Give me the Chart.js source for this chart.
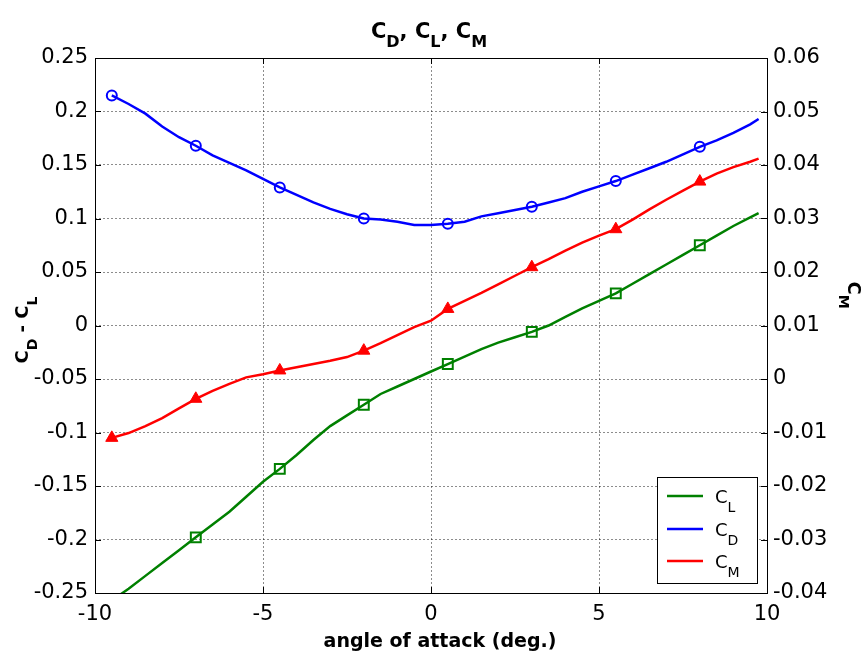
<!DOCTYPE html>
<html>
<head>
<meta charset="utf-8">
<script src="https://cdn.jsdelivr.net/npm/chart.js@4.4.0/dist/chart.umd.min.js"></script>
<style>
  html, body { margin: 0; padding: 0; background: #fff; }
  canvas { display: block; }
</style>
</head>
<body>
<canvas id="coeffChart" width="862" height="653"></canvas>
<script>
// --- data ---
const angles = [-9.5, -9, -8.5, -8, -7.5, -7, -6.5, -6, -5.5, -5, -4.5, -4, -3.5, -3, -2.5, -2, -1.5, -1, -0.5, 0,
                0.5, 1, 1.5, 2, 2.5, 3, 3.5, 4, 4.5, 5, 5.5, 6, 6.5, 7, 7.5, 8, 8.5, 9, 9.5, 9.75];
const markerAngles = [-9.5, -7, -4.5, -2, 0.5, 3, 5.5, 8];

const clValues = [-0.257, -0.246, -0.234, -0.222, -0.210, -0.198, -0.186, -0.174, -0.160, -0.146,
                  -0.134, -0.121, -0.107, -0.094, -0.084, -0.074, -0.064, -0.057, -0.050, -0.043,
                  -0.036, -0.029, -0.022, -0.016, -0.011, -0.006, 0.000, 0.008, 0.016, 0.023,
                  0.030, 0.039, 0.048, 0.057, 0.066, 0.075, 0.084, 0.093, 0.101, 0.105];
const cdValues = [0.215, 0.207, 0.198, 0.186, 0.176, 0.168, 0.159, 0.152, 0.145, 0.137,
                  0.129, 0.122, 0.115, 0.109, 0.104, 0.100, 0.099, 0.097, 0.094, 0.094,
                  0.095, 0.097, 0.102, 0.105, 0.108, 0.111, 0.115, 0.119, 0.125, 0.130,
                  0.135, 0.141, 0.147, 0.153, 0.160, 0.167, 0.173, 0.180, 0.188, 0.193];
const cmValues = [-0.0110, -0.0101, -0.0088, -0.0073, -0.0055, -0.0037, -0.0022, -0.0009, 0.0003, 0.0009,
                  0.0016, 0.0022, 0.0028, 0.0034, 0.0041, 0.0053, 0.0067, 0.0082, 0.0097, 0.0109,
                  0.0131, 0.0146, 0.0161, 0.0177, 0.0193, 0.0209, 0.0224, 0.0240, 0.0255, 0.0268,
                  0.0280, 0.0298, 0.0317, 0.0335, 0.0352, 0.0369, 0.0384, 0.0396, 0.0406, 0.0412];

const xTicks = [-10, -5, 0, 5, 10];
const leftTicks = [-0.25, -0.2, -0.15, -0.1, -0.05, 0, 0.05, 0.1, 0.15, 0.2, 0.25];
const leftTickLabels = ['-0.25', '-0.2', '-0.15', '-0.1', '-0.05', '0', '0.05', '0.1', '0.15', '0.2', '0.25'];
const rightTicks = [-0.04, -0.03, -0.02, -0.01, 0, 0.01, 0.02, 0.03, 0.04, 0.05, 0.06];
const rightTickLabels = ['-0.04', '-0.03', '-0.02', '-0.01', '0', '0.01', '0.02', '0.03', '0.04', '0.05', '0.06'];

const GREEN = '#008000', BLUE = '#0000ff', RED = '#ff0000';
const FONT = 'DejaVu Sans';

function toPoints(vals) {
    return angles.map((a, i) => ({ x: a, y: vals[i] }));
}
function markerSize(r) {
    return ctx => markerAngles.includes(angles[ctx.dataIndex]) ? r : 0;
}

// draw text made of [text, isSub] parts, starting at x (or centred on x)
function drawParts(ctx, parts, x, y, mainFont, subFont, subDrop, center) {
    let w = 0;
    parts.forEach(p => { ctx.font = p[1] ? subFont : mainFont; w += ctx.measureText(p[0]).width; });
    let cx = center ? x - w / 2 : x;
    ctx.textBaseline = 'alphabetic';
    ctx.textAlign = 'left';
    parts.forEach(p => {
        ctx.font = p[1] ? subFont : mainFont;
        ctx.fillText(p[0], cx, p[1] ? y + subDrop : y);
        cx += ctx.measureText(p[0]).width;
    });
}

// box, inward ticks, titles and legend (MATLAB look)
const decorPlugin = {
    id: 'decor',
    afterDatasetsDraw(chart) {
        const { ctx, chartArea: a, scales } = chart;
        ctx.save();
        ctx.strokeStyle = '#000';
        ctx.lineWidth = 1;
        ctx.strokeRect(Math.round(a.left) + 0.5, Math.round(a.top) + 0.5,
                       Math.round(a.right - a.left), Math.round(a.bottom - a.top));
        const tl = 6;
        ctx.beginPath();
        xTicks.forEach(v => {
            const px = Math.round(scales.x.getPixelForValue(v)) + 0.5;
            ctx.moveTo(px, a.bottom); ctx.lineTo(px, a.bottom - tl);
            ctx.moveTo(px, a.top); ctx.lineTo(px, a.top + tl);
        });
        leftTicks.forEach(v => {
            const py = Math.round(scales.y.getPixelForValue(v)) + 0.5;
            ctx.moveTo(a.left, py); ctx.lineTo(a.left + tl, py);
        });
        rightTicks.forEach(v => {
            const py = Math.round(scales.y1.getPixelForValue(v)) + 0.5;
            ctx.moveTo(a.right, py); ctx.lineTo(a.right - tl, py);
        });
        ctx.stroke();

        ctx.fillStyle = '#000';
        // title
        drawParts(ctx, [['C', 0], ['D', 1], [', C', 0], ['L', 1], [', C', 0], ['M', 1]],
                  429, 38, 'bold 21px ' + FONT, 'bold 16px ' + FONT, 9, true);
        // x axis title
        ctx.font = 'bold 19px ' + FONT;
        ctx.textAlign = 'center';
        ctx.fillText('angle of attack (deg.)', 440, 647);
        // left axis title
        ctx.save();
        ctx.translate(28, 330);
        ctx.rotate(-Math.PI / 2);
        drawParts(ctx, [['C', 0], ['D', 1], [' - C', 0], ['L', 1]],
                  0, 0, 'bold 18px ' + FONT, 'bold 14px ' + FONT, 9, true);
        ctx.restore();
        // right axis title
        ctx.save();
        ctx.translate(848, 295);
        ctx.rotate(Math.PI / 2);
        drawParts(ctx, [['C', 0], ['M', 1]], 0, 0, 'bold 18px ' + FONT, 'bold 14px ' + FONT, 9, true);
        ctx.restore();

        // legend
        ctx.fillStyle = '#fff';
        ctx.fillRect(657, 477, 100, 106);
        ctx.strokeStyle = '#000';
        ctx.strokeRect(657.5, 477.5, 100, 106);
        const items = [[GREEN, 'L', 496], [BLUE, 'D', 529], [RED, 'M', 561]];
        items.forEach(it => {
            ctx.strokeStyle = it[0];
            ctx.lineWidth = 2.5;
            ctx.beginPath();
            ctx.moveTo(667, it[2]); ctx.lineTo(703, it[2]);
            ctx.stroke();
            ctx.fillStyle = '#000';
            drawParts(ctx, [['C', 0], [it[1], 1]], 715, it[2] + 7, '18px ' + FONT, '14px ' + FONT, 9, false);
        });
        ctx.restore();
    }
};

const gridCol = 'rgba(0,0,0,0.45)';

new Chart(document.getElementById('coeffChart').getContext('2d'), {
    type: 'line',
    data: {
        datasets: [
            {
                label: 'C_L', data: toPoints(clValues), yAxisID: 'y',
                borderColor: GREEN, borderWidth: 2.5, backgroundColor: 'transparent',
                pointStyle: 'rect', pointRadius: markerSize(7), pointBorderWidth: 2,
                pointBorderColor: GREEN, pointBackgroundColor: 'transparent', clip: 1
            },
            {
                label: 'C_D', data: toPoints(cdValues), yAxisID: 'y',
                borderColor: BLUE, borderWidth: 2.5, backgroundColor: 'transparent',
                pointStyle: 'circle', pointRadius: markerSize(5), pointBorderWidth: 2,
                pointBorderColor: BLUE, pointBackgroundColor: 'transparent', clip: 1
            },
            {
                label: 'C_M', data: toPoints(cmValues), yAxisID: 'y1',
                borderColor: RED, borderWidth: 2.5, backgroundColor: 'transparent',
                pointStyle: 'triangle', pointRadius: markerSize(7), pointBorderWidth: 1,
                pointBorderColor: RED, pointBackgroundColor: RED, clip: 1
            }
        ]
    },
    options: {
        responsive: false,
        animation: false,
        events: [],
        layout: { padding: { top: 58, left: 0, right: 0, bottom: 0 } },
        plugins: { legend: { display: false }, title: { display: false }, tooltip: { enabled: false } },
        scales: {
            x: {
                type: 'linear', min: -10, max: 10,
                afterBuildTicks: s => { s.ticks = xTicks.map(v => ({ value: v })); },
                afterFit: s => { s.height = 60; },
                grid: { color: gridCol, lineWidth: 1, drawTicks: false },
                border: { display: false, dash: [2, 2] },
                ticks: { color: '#000', font: { family: FONT, size: 21 }, padding: 9, maxRotation: 0, autoSkip: false,
                         callback: (v, i) => String(xTicks[i]) }
            },
            y: {
                position: 'left', min: -0.25, max: 0.25,
                afterBuildTicks: s => { s.ticks = leftTicks.map(v => ({ value: v })); },
                afterFit: s => { s.width = 95; },
                grid: { color: gridCol, lineWidth: 1, drawTicks: false },
                border: { display: false, dash: [2, 2] },
                ticks: { color: '#000', font: { family: FONT, size: 21 }, padding: 7, autoSkip: false,
                         callback: (v, i) => leftTickLabels[i] }
            },
            y1: {
                position: 'right', min: -0.04, max: 0.06,
                afterBuildTicks: s => { s.ticks = rightTicks.map(v => ({ value: v })); },
                afterFit: s => { s.width = 95; },
                grid: { drawOnChartArea: false, drawTicks: false },
                border: { display: false },
                ticks: { color: '#000', font: { family: FONT, size: 21 }, padding: 6, autoSkip: false,
                         callback: (v, i) => rightTickLabels[i] }
            }
        }
    },
    plugins: [decorPlugin]
});
</script>
</body>
</html>
